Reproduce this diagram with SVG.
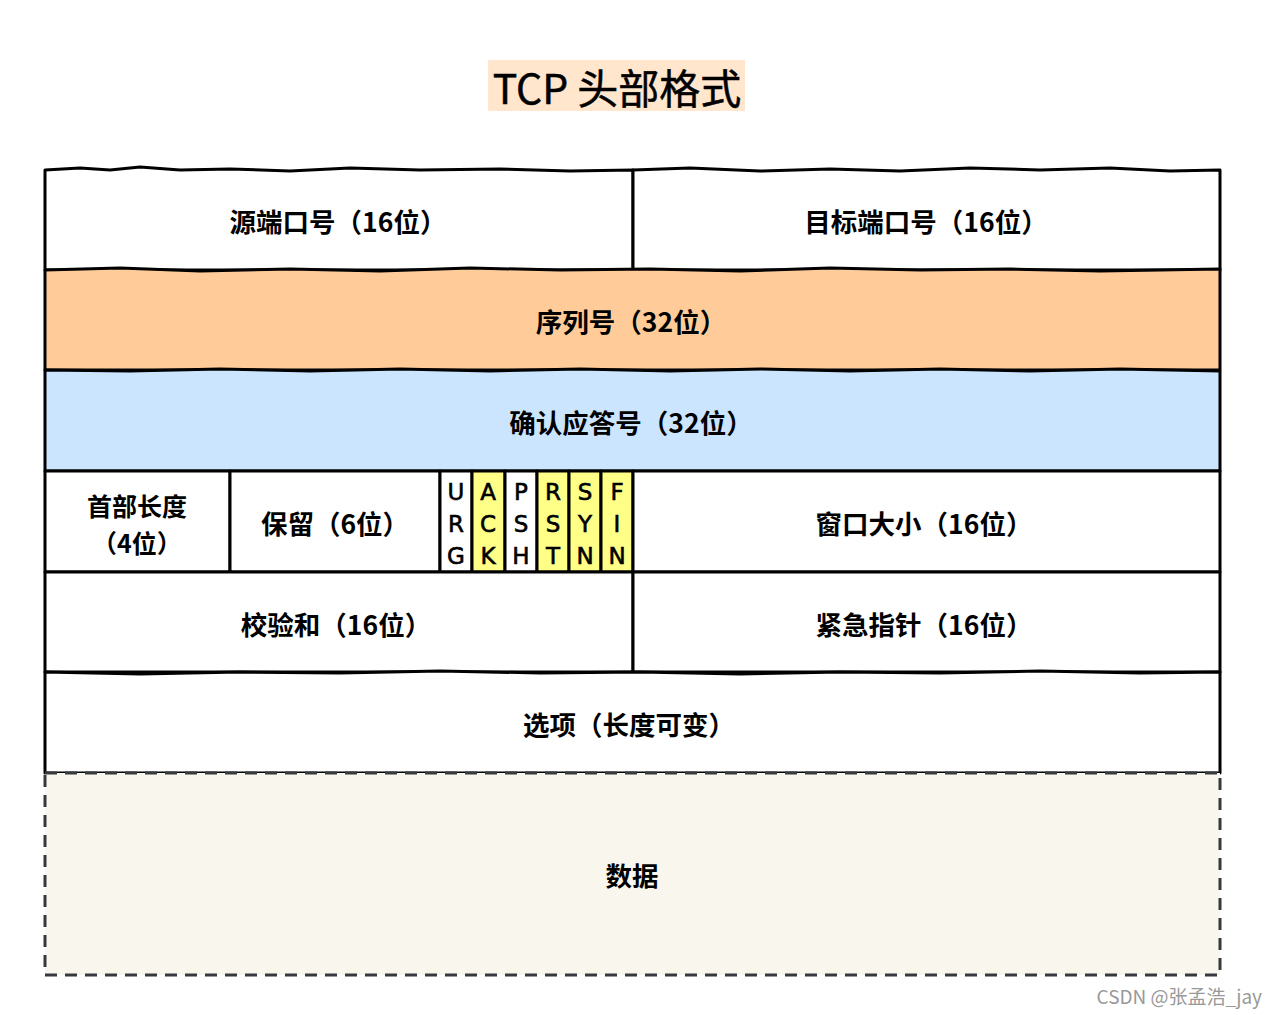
<svg xmlns="http://www.w3.org/2000/svg" width="1278" height="1015" viewBox="0 0 1278 1015">
<style>
.c{stroke:#000;stroke-width:3;stroke-linejoin:round}
.w{fill:#fff}
.y{fill:#ffff88}
.t{font-family:"Noto Sans CJK SC","Noto Sans",sans-serif;font-size:26.5px;font-weight:bold;fill:#000;text-anchor:middle;dominant-baseline:central}
.f{font-family:"DejaVu Sans","Liberation Sans",sans-serif;font-size:23px;fill:#000;stroke:#000;stroke-width:0.6;text-anchor:middle;dominant-baseline:central}
</style>
<rect width="1278" height="1015" fill="#fff"/>
<g id="title">
<rect x="488" y="60" width="257" height="51" fill="#ffe6cc"/>
<text x="617" y="86" style="font-family:'Noto Sans CJK SC','Noto Sans',sans-serif;font-size:41px;fill:#000;stroke:#000;stroke-width:0.5;text-anchor:middle;dominant-baseline:central">TCP 头部格式</text>
</g>
<g id="src-port"><path class="c w" d="M45 170 L80 168 L110 170 L140 167 L180 170 L230 169 L290 171 L350 168 L420 170 L500 169 L570 171 L633 170 L633 270 L45 270 Z"/><text class="t" x="338" y="220">源端口号（16位）</text></g>
<g id="dst-port"><path class="c w" d="M633 170 L690 168 L760 171 L830 169 L900 171 L970 168 L1040 170 L1110 168 L1170 171 L1220 170 L1220 270 L633 270 Z"/><text class="t" x="926" y="220">目标端口号（16位）</text></g>
<g id="seq"><path class="c" fill="#ffcc99" d="M45 270 L120 268 L200 271 L290 269 L380 271 L470 268 L560 270 L650 269 L740 271 L830 268 L920 270 L1010 269 L1100 271 L1220 269 L1220 370 L45 370 Z"/><text class="t" x="631" y="320">序列号（32位）</text></g>
<g id="ack"><path class="c" fill="#cce5ff" d="M45 370 L130 371 L220 369 L310 371 L400 369 L490 371 L580 369 L670 371 L760 369 L850 371 L940 369 L1030 371 L1120 369 L1220 371 L1220 471 L45 471 Z"/><text class="t" x="631" y="421">确认应答号（32位）</text></g>
<g id="hlen"><path class="c w" d="M45 471 L230 471 L230 572 L45 572 Z"/><text class="t" x="137" y="505" style="font-size:25px">首部长度</text><text class="t" x="137" y="542" style="font-size:25px">（4位）</text></g>
<g id="reserved"><path class="c w" d="M230 471 L440 471 L440 572 L230 572 Z"/><text class="t" x="335" y="522">保留（6位）</text></g>
<g id="urg"><rect class="c w" x="440" y="471" width="32" height="101"/><text class="f" x="456" y="492">U</text><text class="f" x="456" y="524">R</text><text class="f" x="456" y="556">G</text></g>
<g id="ackf"><rect class="c y" x="472" y="471" width="33" height="101"/><text class="f" x="488" y="492">A</text><text class="f" x="488" y="524">C</text><text class="f" x="488" y="556">K</text></g>
<g id="psh"><rect class="c w" x="505" y="471" width="32" height="101"/><text class="f" x="521" y="492">P</text><text class="f" x="521" y="524">S</text><text class="f" x="521" y="556">H</text></g>
<g id="rst"><rect class="c y" x="537" y="471" width="32" height="101"/><text class="f" x="553" y="492">R</text><text class="f" x="553" y="524">S</text><text class="f" x="553" y="556">T</text></g>
<g id="syn"><rect class="c y" x="569" y="471" width="32" height="101"/><text class="f" x="585" y="492">S</text><text class="f" x="585" y="524">Y</text><text class="f" x="585" y="556">N</text></g>
<g id="fin"><rect class="c y" x="601" y="471" width="32" height="101"/><text class="f" x="617" y="492">F</text><text class="f" x="617" y="524">I</text><text class="f" x="617" y="556">N</text></g>
<g id="window"><path class="c w" d="M633 471 L1220 471 L1220 572 L633 572 Z"/><text class="t" x="924" y="522">窗口大小（16位）</text></g>
<g id="checksum"><path class="c w" d="M45 572 L633 572 L633 672 L45 672 Z"/><text class="t" x="336" y="623">校验和（16位）</text></g>
<g id="urgent"><path class="c w" d="M633 572 L1220 572 L1220 672 L633 672 Z"/><text class="t" x="924" y="623">紧急指针（16位）</text></g>
<g id="options"><path class="c w" d="M45 672 L140 674 L240 672 L340 673 L440 671 L540 673 L640 672 L740 674 L840 672 L940 673 L1040 671 L1140 673 L1220 672 L1220 773 L45 773 Z"/><text class="t" x="629" y="723">选项（长度可变）</text></g>
<g id="data"><rect x="45" y="773" width="1175" height="202" fill="#f9f7ed" stroke="#36393d" stroke-width="3" stroke-dasharray="12 8"/><text class="t" x="632" y="874">数据</text></g>
<text x="1262" y="995" style="font-family:'Noto Sans CJK SC','Noto Sans',sans-serif;font-size:19px;fill:#999;text-anchor:end;dominant-baseline:central">CSDN @张孟浩_jay</text>
</svg>
